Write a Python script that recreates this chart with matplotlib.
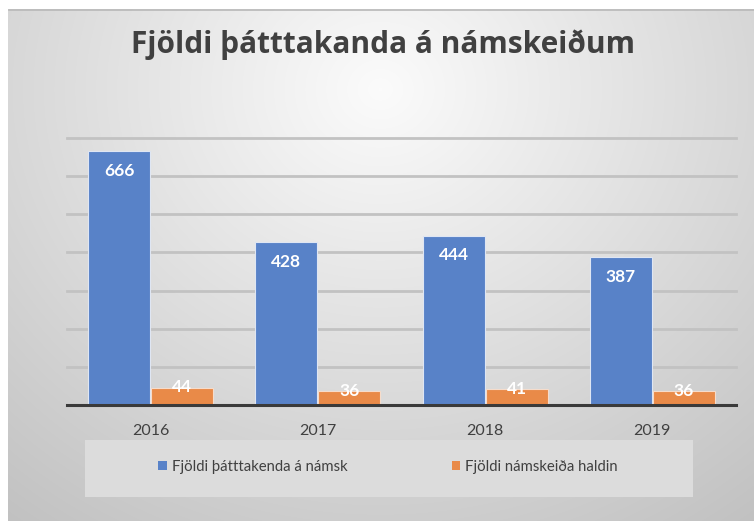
import numpy as np
import matplotlib
matplotlib.use("Agg")
import matplotlib.pyplot as plt
from matplotlib.patches import Rectangle, Patch

years = ["2016", "2017", "2018", "2019"]
participants = [666, 428, 444, 387]
courses = [44, 36, 41, 36]
series_names = ["Fjöldi þátttakenda á námsk", "Fjöldi námskeiða haldin"]
title = "Fjöldi þátttakanda á námskeiðum"

W, H = 754, 521
fig = plt.figure(figsize=(W / 100, H / 100), dpi=100)
fig.patch.set_facecolor("white")

# background gradient
bg = fig.add_axes([8 / W, 0, (W - 8) / W, (H - 9) / H])
bg.set_axis_off()
yy, xx = np.mgrid[0:512, 0:746]
d = np.sqrt(((xx - 372) / 1.0) ** 2 + ((yy - 80) / 0.9) ** 2)
val = np.clip(0.985 - 0.21 * (d / 560), 0.74, 1.0)
bg.imshow(np.dstack([val, val, val]), aspect="auto", interpolation="bilinear")
bg.plot([0, 745], [0.5, 0.5], color="#b8b8b8", lw=1.2)

# legend box
fig.patches.append(Rectangle((85 / W, 1 - 497 / H), (693 - 85) / W, (497 - 440) / H,
                             transform=fig.transFigure, facecolor="#dcdcdc",
                             edgecolor="none", zorder=1))

ax = fig.add_axes([67 / W, 1 - 405 / H, (736 - 67) / W, (405 - 138) / H])
ax.set_facecolor("none")
x = np.arange(len(years))
bw = 0.37
blue = "#5882C8"
orange = "#E98A48"
b1 = ax.bar(x - bw / 2 - 0.003, participants, bw, color=blue, edgecolor="#dfe6f3", linewidth=0.8, zorder=3)
b2 = ax.bar(x + bw / 2 + 0.003, courses, bw, color=orange, edgecolor="#f6dccb", linewidth=0.8, zorder=3)
ax.set_xlim(-0.5, 3.5)
ax.set_ylim(0, 700)
ax.set_yticks(np.arange(100, 701, 100))
ax.yaxis.grid(True, color="#c2c2c2", lw=2.0, zorder=0)
for gl in ax.get_ygridlines():
    gl.set_clip_on(False)
ax.tick_params(axis="y", left=False, labelleft=False)
ax.set_xticks(x)
ax.set_xticklabels(years, fontsize=11.5, color="#404040", fontfamily="Lato")
ax.tick_params(axis="x", bottom=False, pad=10)
for s in ["top", "right", "left"]:
    ax.spines[s].set_visible(False)
ax.spines["bottom"].set_color("#3a3a3a")
ax.spines["bottom"].set_linewidth(2.2)
ax.spines["bottom"].set_zorder(5)

for rect, v in zip(b1, participants):
    ax.text(rect.get_x() + rect.get_width() / 2, v - 52, str(v), ha="center", va="center",
            color="white", fontsize=12.5, fontweight="bold", fontfamily="Lato", zorder=6)
for rect, v in zip(b2, courses):
    ax.text(rect.get_x() + rect.get_width() / 2, v + 2, str(v), ha="center", va="center",
            color="white", fontsize=12.5, fontweight="bold", fontfamily="Lato", zorder=6)

fig.text(383 / W, 1 - 45 / H, title, ha="center", va="center", fontsize=21.5,
         fontweight="bold", color="#404040", fontfamily="Open Sans")

handles = [Patch(facecolor=blue, edgecolor="none"), Patch(facecolor=orange, edgecolor="none")]
leg = fig.legend(handles, series_names, loc="center", bbox_to_anchor=(388 / W, 1 - 467 / H),
                 ncol=2, frameon=False, prop={"family": "Lato", "size": 10.7},
                 handlelength=0.6, handleheight=0.6, handletextpad=0.3, columnspacing=7.0,
                 labelcolor="#404040")

fig.savefig("out.png", dpi=100)
